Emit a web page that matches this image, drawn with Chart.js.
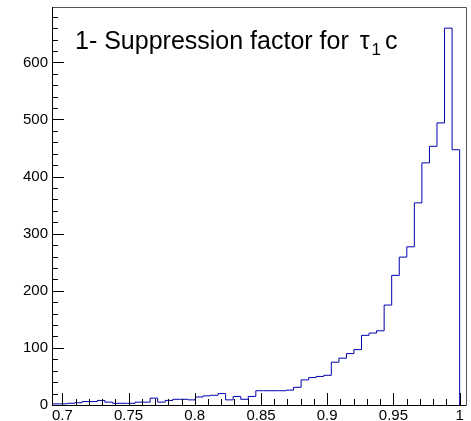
<!DOCTYPE html>
<html>
<head>
<meta charset="utf-8">
<script src="https://cdn.jsdelivr.net/npm/chart.js@4.4.0/dist/chart.umd.min.js"></script>
<style>
  html, body { margin: 0; padding: 0; background: #fff; }
</style>
</head>
<body>
<canvas id="myChart" width="471" height="421"></canvas>
<script>
// histogram binning
const xMin = 0.6922;
const xMax = 1.0048;
const binWidth = 0.0057;
const yMax = 697;

// entries per bin, left to right
const counts = [
  2, 2, 3, 4, 6, 6, 8, 5, 3, 3,
  3, 5, 5, 12, 5, 8, 10, 10, 9, 14,
  16, 17, 20, 9, 15, 10, 15, 25, 25, 25,
  25, 26, 31, 44, 48, 50, 52, 75, 82, 90,
  97, 122, 126, 130, 175, 227, 259, 277, 354, 424,
  453, 494, 660, 447
];

const xTickLabels = ['0.7', '0.75', '0.8', '0.85', '0.9', '0.95', '1'];
const yTickLabels = ['0', '100', '200', '300', '400', '500', '600'];

const FONT = "'Liberation Sans', Arial, Helvetica, sans-serif";

// outline points: left edge of every bin, then close down to zero
const points = counts.map((c, i) => ({ x: xMin + i * binWidth, y: c }));
const lastEdge = xMin + counts.length * binWidth;
points.push({ x: lastEdge, y: counts[counts.length - 1] });
points.push({ x: lastEdge, y: 0 });

// frame, inward ticks and the label inside the pad
const rootFrame = {
  id: 'rootFrame',
  afterDraw(chart) {
    const { ctx, chartArea: a, scales: { x, y } } = chart;
    ctx.save();
    ctx.lineWidth = 1;

    ctx.strokeStyle = '#555';
    ctx.beginPath();
    ctx.moveTo(a.left, a.top + 0.5);
    ctx.lineTo(a.right + 0.5, a.top + 0.5);
    ctx.lineTo(a.right + 0.5, a.bottom);
    ctx.stroke();

    ctx.strokeStyle = '#000';
    ctx.beginPath();
    ctx.moveTo(a.left + 0.5, a.top);
    ctx.lineTo(a.left + 0.5, a.bottom + 0.5);
    ctx.lineTo(a.right + 0.5, a.bottom + 0.5);
    ctx.stroke();

    // x ticks
    ctx.beginPath();
    for (let k = 70; k <= 100; k++) {
      const px = Math.round(x.getPixelForValue(k / 100)) + 0.5;
      const len = k % 5 === 0 ? 12 : 6;
      ctx.moveTo(px, a.bottom);
      ctx.lineTo(px, a.bottom - len);
    }
    // y ticks
    for (let v = 0; v <= 680; v += 20) {
      const py = Math.round(y.getPixelForValue(v)) + 0.5;
      const len = v % 100 === 0 ? 12 : 6;
      ctx.moveTo(a.left, py);
      ctx.lineTo(a.left + len, py);
    }
    ctx.stroke();

    // title text
    const tx = a.left + 23;
    const ty = a.top + 42;
    ctx.fillStyle = '#000';
    ctx.textBaseline = 'alphabetic';
    ctx.font = '25px ' + FONT;
    const head = '1- Suppression factor for';
    ctx.fillText(head, tx, ty);
    let cx = tx + ctx.measureText(head).width + 11;
    ctx.fillText('\u03C4', cx, ty);
    cx += ctx.measureText('\u03C4').width + 2;
    ctx.font = '17px ' + FONT;
    ctx.fillText('1', cx, ty + 6);
    cx += ctx.measureText('1').width + 4;
    ctx.font = '25px ' + FONT;
    ctx.fillText('c', cx, ty);
    ctx.restore();
  }
};

const ctx = document.getElementById('myChart').getContext('2d');
new Chart(ctx, {
  type: 'line',
  data: {
    datasets: [{
      data: points,
      borderColor: '#0000b0',
      borderWidth: 1,
      pointRadius: 0,
      fill: false,
      stepped: 'before',
      tension: 0
    }]
  },
  options: {
    responsive: false,
    animation: false,
    layout: { padding: { top: 7, right: 5, left: 0, bottom: 0 } },
    plugins: {
      legend: { display: false },
      tooltip: { enabled: false }
    },
    scales: {
      x: {
        type: 'linear',
        min: xMin,
        max: xMax,
        grid: { display: false, drawTicks: false, tickLength: 0 },
        border: { display: false },
        afterBuildTicks: s => { s.ticks = xTickLabels.map(t => ({ value: parseFloat(t) })); },
        afterFit: s => { s.height = 16; s.paddingLeft = 0; s.paddingRight = 0; },
        ticks: {
          autoSkip: false,
          maxRotation: 0,
          padding: 2,
          color: '#000',
          font: { family: FONT, size: 15 },
          callback: v => xTickLabels.find(t => parseFloat(t) === v)
        }
      },
      y: {
        type: 'linear',
        min: 0,
        max: yMax,
        grid: { display: false, drawTicks: false, tickLength: 0 },
        border: { display: false },
        afterBuildTicks: s => { s.ticks = yTickLabels.map(t => ({ value: parseFloat(t) })); },
        afterFit: s => { s.width = 52; s.paddingTop = 0; s.paddingBottom = 0; },
        ticks: {
          padding: 4,
          color: '#000',
          font: { family: FONT, size: 15 },
          callback: v => yTickLabels.find(t => parseFloat(t) === v)
        }
      }
    }
  },
  plugins: [rootFrame]
});
</script>
</body>
</html>
